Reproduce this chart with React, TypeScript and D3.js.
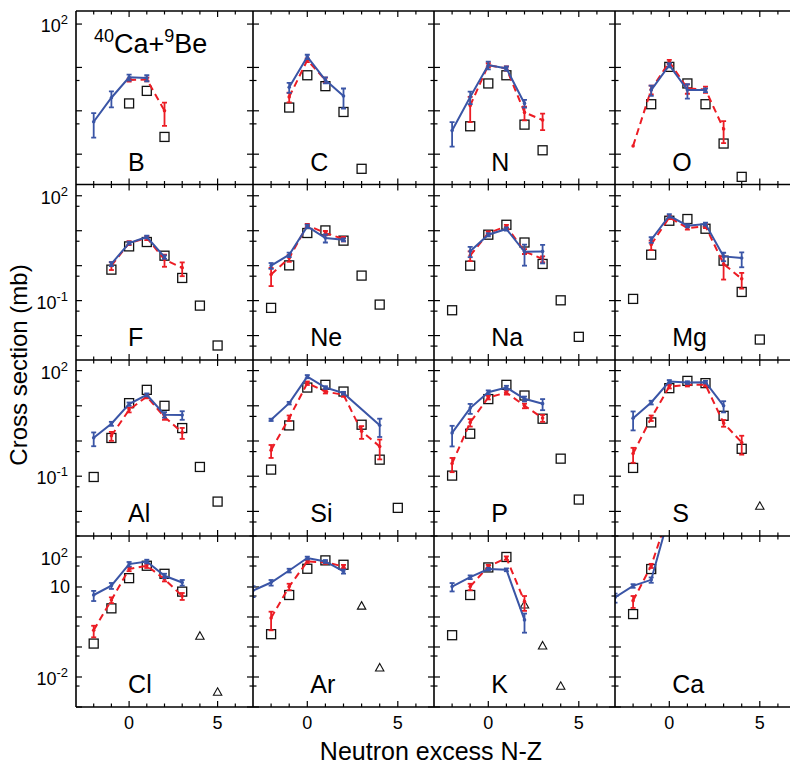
import React from 'react';
import * as d3 from 'd3';

const W = 790;
const H = 766;
const colEdges = [76, 253, 434, 615, 796];
const rowEdges = [11, 184.5, 360, 536, 707];
const xDomain: [number, number] = [-3, 7];
const rowDomains: [number, number][] = [[0.02, 200], [0.002, 210], [0.002, 200], [0.001, 500]];
const rowTickLabels: number[][] = [[100], [100, 0.1], [100, 0.1], [100, 10, 0.01]];
const xTickLabels = [0, 5];

const elements = ['B', 'C', 'N', 'O', 'F', 'Ne', 'Na', 'Mg', 'Al', 'Si', 'P', 'S', 'Cl', 'Ar', 'K', 'Ca'];

// EPAX-like calculation (blue, solid)
const blueN: number[][] = [
  [-2, -1, 0, 1], [-1, 0, 1, 2], [-2, -1, 0, 1, 2], [-1, 0, 1, 2],
  [-1, 0, 1, 2], [-2, -1, 0, 1, 2], [-1, 0, 1, 2, 3], [-1, 0, 1, 2, 3, 4],
  [-2, -1, 0, 1, 2, 3], [-2, -1, 0, 1, 2, 4], [-2, -1, 0, 1, 2, 3], [-2, -1, 0, 1, 2, 3],
  [-2, -1, 0, 1, 2, 3], [-3, -2, -1, 0, 1, 2], [-2, -1, 0, 1, 2], [-3, -2, -1, 0],
];
const blueV: number[][] = [
  [0.56, 2.0, 5.9, 5.7], [3.5, 17.6, 5.1, 2.2], [0.35, 2.09, 11.3, 9.5, 1.48], [3.0, 11.3, 3.0, 3.0],
  [1.12, 4.45, 6.6, 1.77], [1.0, 2.06, 13.3, 6.2, 5.5], [2.6, 7.7, 11.2, 2.5, 2.56], [5.5, 26.8, 13.9, 15.5, 1.84, 1.65],
  [1.23, 3.1, 11.2, 20.5, 5.6, 5.5], [4.0, 11.9, 67.6, 33, 22.9, 2.8], [1.7, 8.6, 24.4, 33, 15.8, 11.5], [4.45, 12.4, 48.8, 45.7, 47, 10],
  [5.4, 11.1, 58, 71, 23.6, 14.1], [7.6, 14.1, 35.5, 92.5, 71, 32.9], [10.3, 21.3, 39.6, 37.5, 0.8], [4.5, 10.9, 17.3, 2500],
];
const blueE: number[][] = [
  [0.32, 0.8, 0.9, 0.9], [0.9, 2, 0.8, 1.07], [0.2, 0.67, 2.3, 1.0, 0.3], [0.8, 1.2, 1.1, 0.3],
  [0.15, 0.4, 0.6, 0.2], [0.19, 0.3, 1.5, 1.6, 0.5], [0.85, 0.8, 1.2, 1.5, 1.4], [1.0, 3, 1.5, 1.5, 0.5, 0.75],
  [0.52, 0.4, 1.2, 2, 1.0, 1.5], [0.3, 1.0, 7, 3, 2, 1.5], [1.0, 2.7, 3, 4, 2.5, 4], [2.45, 1.5, 5, 4, 4, 3.5],
  [2, 2.5, 10, 10, 4, 3], [3, 3, 5, 10, 8, 5], [3.2, 3, 4, 4, 0.5], [1.5, 1.5, 3.5, 0],
];

// second calculation (red, dashed)
const redN: number[][] = [
  [0, 1, 2], [-1, 0, 1], [-1, 0, 1, 2, 3], [-2, -1, 0, 1, 2, 3],
  [-1, 0, 1, 2, 3], [-2, -1, 0, 1, 2], [-1, 0, 1, 2, 3], [-1, 0, 1, 2, 3, 4],
  [-1, 0, 1, 2, 3], [-2, -1, 0, 1, 2, 3, 4], [-2, -1, 0, 1, 2, 3], [-2, -1, 0, 1, 2, 3, 4],
  [-2, -1, 0, 1, 2, 3], [-2, -1, 0, 1, 2], [-1, 0, 1, 2], [-2, -1, 0],
];
const redV: number[][] = [
  [5.1, 5.3, 1.0], [2.09, 14.7, 5.1], [1.32, 11.3, 9.5, 0.92, 0.61], [0.155, 3.1, 13.5, 3.27, 3.1, 0.38],
  [1.0, 4.45, 6.2, 1.5, 0.87], [0.56, 1.66, 14.2, 8.6, 5.8], [1.95, 8.6, 13.3, 2.56, 1.55], [4.0, 24, 11.9, 13.3, 1.12, 0.42],
  [1.41, 7.7, 18.3, 4.8, 1.75], [0.55, 4.5, 44, 25.4, 20.5, 1.9, 0.7], [0.23, 3.37, 17.2, 23.8, 10, 4.5], [0.44, 4.5, 35.2, 39.4, 39.4, 3.24, 0.91],
  [0.36, 3.7, 39.6, 51, 18.3, 5.0], [0.93, 10.3, 71, 66, 48.4], [10.3, 48.4, 92.5, 3.3], [3.5, 51, 3300],
];
const redE: number[][] = [
  [0.4, 0.5, 0.55], [0.52, 1.5, 0.7], [0.77, 1.2, 1.0, 0.32, 0.25], [0, 0.7, 1.5, 0.8, 0.5, 0.2],
  [0.25, 0.6, 0.8, 0.57, 0.37], [0.3, 0.37, 1.5, 1.2, 0.8], [0.6, 1, 1.3, 0.4, 0.3], [1.2, 2.5, 1.2, 1.5, 0.72, 0.2],
  [0.4, 1.2, 2, 0.8, 0.6], [0.22, 0.8, 5, 3, 2.5, 0.75, 0.4], [0.1, 0.8, 2, 3, 1.5, 1.0], [0.2, 0.8, 4, 4, 4, 0.7, 0.5],
  [0.15, 0.8, 6, 8, 3, 1.3], [0.57, 2.5, 8, 7, 6], [2.5, 6, 12, 1.7], [1.5, 8, 0],
];

// experimental data (open squares)
const sqN: number[][] = [
  [0, 1, 2], [-1, 0, 1, 2, 3], [-1, 0, 1, 2, 3], [-1, 0, 1, 2, 3, 4],
  [-1, 0, 1, 2, 3, 4, 5], [-2, -1, 0, 1, 2, 3, 4], [-2, -1, 0, 1, 2, 3, 4, 5], [-2, -1, 0, 1, 2, 3, 4, 5],
  [-2, -1, 0, 1, 2, 3, 4, 5], [-2, -1, 0, 1, 2, 3, 4, 5], [-2, -1, 0, 1, 2, 3, 4, 5], [-2, -1, 0, 1, 2, 3, 4],
  [-2, -1, 0, 1, 2, 3], [-2, -1, 0, 1, 2], [-2, -1, 0, 1], [-2, -1],
];
const sqV: number[][] = [
  [1.48, 2.88, 0.25], [1.19, 6.6, 3.7, 0.94, 0.046], [0.44, 4.27, 6.6, 0.48, 0.123], [1.42, 10.3, 4.27, 1.42, 0.176, 0.03],
  [0.77, 3.56, 4.75, 1.93, 0.445, 0.072, 0.0052], [0.062, 1.02, 8.6, 10.2, 5.2, 0.52, 0.077], [0.053, 1.0, 7.7, 14.8, 4.6, 1.12, 0.102, 0.0092], [0.112, 2.06, 19.3, 21.6, 11.4, 1.39, 0.177, 0.0077],
  [0.095, 1.22, 11.9, 28.4, 10, 2.33, 0.183, 0.019], [0.154, 2.77, 33, 39.4, 25.4, 2.9, 0.295, 0.0126], [0.104, 1.61, 15.5, 39.4, 19.6, 4.3, 0.315, 0.0217], [0.172, 3.37, 31.7, 51, 44, 5.2, 0.6],
  [0.13, 1.94, 19.7, 51, 27.5, 7.0], [0.267, 5.4, 40.5, 77, 55], [0.247, 5.4, 44.8, 100], [1.25, 39.6],
];

// other data (open triangles)
const triN: number[][] = [
  [], [], [], [], [], [], [], [], [], [], [], [5],
  [4, 5], [3, 4], [2, 3, 4], [],
];
const triV: number[][] = [
  [], [], [], [], [], [], [], [], [], [], [], [0.014],
  [0.229, 0.0031], [2.3, 0.02], [2.5, 0.108, 0.0049], [],
];

const BLUE = '#3a55a6';
const RED = '#ec1c24';
const FONT = '"Liberation Sans", Arial, Helvetica, sans-serif';

function ErrorBars({ n, v, e, x, y, color }: any) {
  return (
    <g stroke={color} strokeWidth={1.8}>
      {n.map((ni: number, k: number) => {
        const val = v[k];
        const err = e[k];
        const cx = x(ni);
        const items: any[] = [];
        if (err > 0) {
          const lo = val - err > 0 ? val - err : val * 0.25;
          const hi = val + err;
          const yl = y(lo);
          const yh = y(hi);
          items.push(<line key="v" x1={cx} x2={cx} y1={yl} y2={yh} />);
          items.push(<line key="c1" x1={cx - 2.5} x2={cx + 2.5} y1={yl} y2={yl} />);
          items.push(<line key="c2" x1={cx - 2.5} x2={cx + 2.5} y1={yh} y2={yh} />);
        }
        items.push(<circle key="p" cx={cx} cy={y(val)} r={1.8} fill={color} stroke="none" />);
        return <g key={k}>{items}</g>;
      })}
    </g>
  );
}

function yLabel(val: number, tickY: number, key: string) {
  const exp = Math.round(Math.log10(val));
  if (exp === 1) {
    return (
      <text key={key} x={70} y={tickY + 6} textAnchor="end" fontSize={18} fontFamily={FONT}>10</text>
    );
  }
  return (
    <text key={key} x={68} y={tickY + 8} textAnchor="end" fontSize={18} fontFamily={FONT}>
      10<tspan dy={-8} fontSize={13}>{String(exp)}</tspan>
    </text>
  );
}

export default function App() {
  const panels = elements.map((el, i) => {
    const r = Math.floor(i / 4);
    const c = i % 4;
    const x0 = colEdges[c];
    const x1 = colEdges[c + 1];
    const y0 = rowEdges[r];
    const y1 = rowEdges[r + 1];
    const x = d3.scaleLinear().domain(xDomain).range([x0, x1]);
    const y = d3.scaleLog().domain(rowDomains[r]).range([y1, y0]);
    const line = d3.line<[number, number]>().x((d) => x(d[0])).y((d) => y(d[1]));
    const bluePts: [number, number][] = blueN[i].map((n, k) => [n, blueV[i][k]]);
    const redPts: [number, number][] = redN[i].map((n, k) => [n, redV[i][k]]);
    const [dmin, dmax] = rowDomains[r];
    const majors: number[] = [];
    const minors: number[] = [];
    for (let p = -4; p <= 3; p++) {
      const m = Math.pow(10, p);
      if (m >= dmin && m <= dmax) majors.push(m);
      const mm = 5 * Math.pow(10, p);
      if (mm >= dmin && mm <= dmax && !(r === 0 && p === 1)) minors.push(mm);
    }
    const xt = d3.range(-2, 7);
    const clipId = `clip${i}`;
    return (
      <g key={el}>
        <defs>
          <clipPath id={clipId}>
            <rect x={x0} y={y0} width={x1 - x0} height={y1 - y0} />
          </clipPath>
        </defs>
        <g stroke="#000" strokeWidth={1.2}>
          {xt.map((t) => {
            const len = t % 5 === 0 ? 6 : 3.5;
            return (
              <g key={'x' + t}>
                <line x1={x(t)} x2={x(t)} y1={y0} y2={y0 + len} />
                <line x1={x(t)} x2={x(t)} y1={y1} y2={y1 - len} />
              </g>
            );
          })}
          {majors.map((t) => (
            <g key={'M' + t}>
              <line x1={x0} x2={x0 + 6} y1={y(t)} y2={y(t)} />
              <line x1={x1} x2={x1 - 6} y1={y(t)} y2={y(t)} />
            </g>
          ))}
          {minors.map((t) => (
            <g key={'m' + t}>
              <line x1={x0} x2={x0 + 3.5} y1={y(t)} y2={y(t)} />
              <line x1={x1} x2={x1 - 3.5} y1={y(t)} y2={y(t)} />
            </g>
          ))}
        </g>
        <g clipPath={`url(#${clipId})`}>
          {sqN[i].map((n, k) => (
            <rect key={'s' + k} x={x(n) - 4.5} y={y(sqV[i][k]) - 4.5} width={9} height={9} fill="none" stroke="#111" strokeWidth={1.3} />
          ))}
          {triN[i].map((n, k) => {
            const cx = x(n);
            const cy = y(triV[i][k]);
            return (
              <path key={'t' + k} d={`M${cx},${cy - 4.5}L${cx + 4.2},${cy + 3}L${cx - 4.2},${cy + 3}Z`} fill="none" stroke="#111" strokeWidth={1.1} />
            );
          })}
          <path d={line(redPts) || ''} fill="none" stroke={RED} strokeWidth={2} strokeDasharray="7,4.5" />
          <ErrorBars n={redN[i]} v={redV[i]} e={redE[i]} x={x} y={y} color={RED} />
          <path d={line(bluePts) || ''} fill="none" stroke={BLUE} strokeWidth={2} />
          <ErrorBars n={blueN[i]} v={blueV[i]} e={blueE[i]} x={x} y={y} color={BLUE} />
        </g>
        <text x={x(0) + (c === 0 ? -1 : 3)} y={y1 - 14} fontSize={25} fontFamily={FONT}>{el}</text>
        {c === 0 && rowTickLabels[r].map((t, k) => yLabel(t, y(t), 'yl' + k))}
        {r === 3 && xTickLabels.map((t) => (
          <text key={'xl' + t} x={x(t)} y={729} textAnchor="middle" fontSize={18} fontFamily={FONT}>{t}</text>
        ))}
      </g>
    );
  });

  return (
    <svg width={W} height={H} style={{ position: 'absolute', left: 0, top: 0, background: '#fff' }}>
      <rect x={0} y={0} width={W} height={H} fill="#fff" />
      {panels}
      <g fill="none" stroke="#000" strokeWidth={1.6}>
        {rowEdges.map((yy, k) => (
          <line key={'h' + k} x1={colEdges[0]} x2={colEdges[4]} y1={yy} y2={yy} />
        ))}
        {colEdges.map((xx, k) => (
          <line key={'v' + k} x1={xx} x2={xx} y1={rowEdges[0]} y2={rowEdges[4]} />
        ))}
      </g>
      <text x={94} y={53} fontSize={27} fontFamily={FONT}>
        <tspan fontSize={18} dy={-11}>40</tspan>
        <tspan dy={11}>Ca+</tspan>
        <tspan fontSize={18} dy={-11}>9</tspan>
        <tspan dy={11}>Be</tspan>
      </text>
      <text transform="translate(27,365) rotate(-90)" textAnchor="middle" fontSize={24} fontFamily={FONT}>Cross section (mb)</text>
      <text x={431} y={760} textAnchor="middle" fontSize={25} fontFamily={FONT}>Neutron excess N-Z</text>
    </svg>
  );
}
